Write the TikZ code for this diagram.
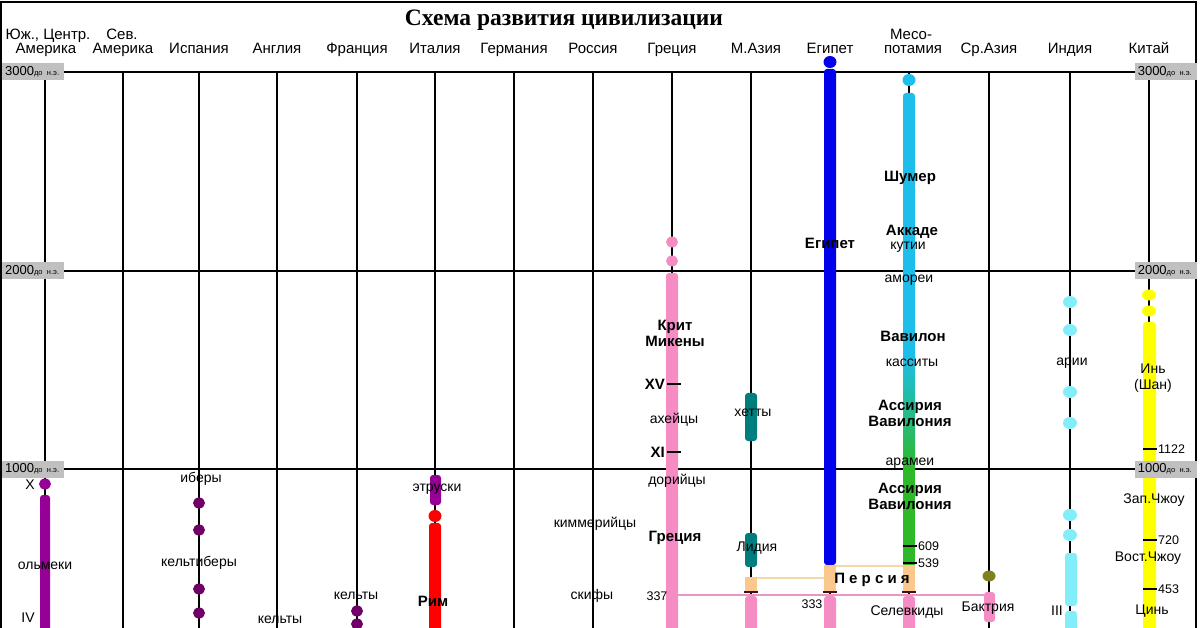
\documentclass[tikz,border=0pt]{standalone}
\usepackage{fontspec}
\setmainfont{Liberation Sans}
\newfontfamily\titlefont{Liberation Serif}
\usetikzlibrary{positioning}

\definecolor{purpc}{RGB}{150,0,150}
\definecolor{dpurpc}{RGB}{112,0,104}
\definecolor{redc}{RGB}{255,0,0}
\definecolor{pinkc}{RGB}{245,140,195}
\definecolor{pinkline}{RGB}{232,150,200}
\definecolor{tealc}{RGB}{0,125,125}
\definecolor{bluec}{RGB}{0,0,235}
\definecolor{skyc}{RGB}{30,190,235}
\definecolor{greenc}{RGB}{45,185,40}
\definecolor{peachc}{RGB}{250,200,140}
\definecolor{peachline}{RGB}{245,215,170}
\definecolor{olivec}{RGB}{128,128,32}
\definecolor{lcyanc}{RGB}{130,238,250}
\definecolor{yellowc}{RGB}{255,255,0}
\definecolor{yearc}{RGB}{192,192,192}
\definecolor{tickc}{RGB}{60,20,20}

\begin{document}
\begin{tikzpicture}[
  x=1pt,
  y=-1pt,
  font=\fontsize{14}{16}\selectfont,
  grid line/.style={draw=black,line width=1.6pt},
  col head/.style={font=\fontsize{15}{16}\selectfont,inner sep=0pt,anchor=base},
  label/.style={inner sep=0pt},
  bold label/.style={label,font=\fontsize{15}{16}\selectfont\bfseries},
  num/.style={inner sep=0pt,font=\fontsize{12.5}{14}\selectfont},
  year box/.style={fill=yearc,inner xsep=3pt,inner ysep=0pt,
    minimum height=17pt,text width=56pt,align=left,
    font=\fontsize{13}{14}\selectfont},
  bar/.style={fill=#1,rounded corners=3pt},
  tick/.style={draw=black,line width=1.4pt},
  sep/.style={draw=tickc,line width=1.8pt}
]
  \path[use as bounding box] (0,0) rectangle (1200,628);
  \draw[grid line] (1,628) -- (1,2) -- (1196,2) -- (1196,628);

  % title and column heads
  \node[font=\titlefont\fontsize{23.5}{25}\selectfont\bfseries] (title)
    at (564,20) {Схема развития цивилизации};
  \foreach \cx/\hd in {199/Испания,277/Англия,357/Франция,435/Италия,
      514/Германия,593/Россия,672/Греция,756/М.Азия,830/Египет,
      989/Ср.Азия,1070/Индия,1149/Китай}{
    \node[col head] (h\cx) at (\cx,54) {\hd};
  }
  \node[col head] (hsam1) at (48,40) {Юж., Центр.};
  \node[col head] (hsam2) at (46,54) {Америка};
  \node[col head] (hnam1) at (122,40) {Сев.};
  \node[col head] (hnam2) at (123,54) {Америка};
  \node[col head] (hmes1) at (911,40) {Месо-};
  \node[col head] (hmes2) at (913,54) {потамия};

  % grid
  \foreach \cx in {45,123,199,277,357,435,514,593,672,751,830,909,989,1070,1149}{
    \draw[grid line] (\cx,72) -- (\cx,628);
  }
  \foreach \yy in {72,271,469}{
    \draw[grid line] (1,\yy) -- (1196,\yy);
  }

  % Americas, Spain, France, Italy
  \fill[purpc] (45,484) ellipse[x radius=6,y radius=5.5];
  \fill[bar=purpc] (40,495) rectangle (50,640);
  \foreach \dy in {503,530,589,613}{
    \fill[dpurpc] (199,\dy) ellipse[x radius=6,y radius=5.5];
  }
  \foreach \dy in {611,624}{
    \fill[dpurpc] (357,\dy) ellipse[x radius=6,y radius=5.5];
  }
  \fill[bar=purpc] (430,475) rectangle (441,505);
  \fill[redc] (435,516) ellipse[x radius=6.5,y radius=6];
  \fill[bar=redc] (429,523) rectangle (441,640);

  % Greece, Asia Minor
  \foreach \dy in {242,261}{
    \fill[pinkc] (672,\dy) ellipse[x radius=6,y radius=5.5];
  }
  \fill[bar=pinkc] (666,273) rectangle (678,640);
  \fill[bar=tealc] (745,393) rectangle (757,441);
  \fill[bar=tealc] (745,533) rectangle (757,567);

  % Egypt, Mesopotamia
  \fill[bluec] (830,62) ellipse[x radius=6.5,y radius=6];
  \fill[bar=bluec] (824,69) rectangle (836,565);
  \fill[skyc] (909,80) ellipse[x radius=6.5,y radius=6];
  \fill[bar=skyc] (903,93) rectangle (915,360);
  \shade[top color=skyc,bottom color=greenc] (903,355) rectangle (915,470);
  \fill[greenc] (903,469) rectangle (915,565);

  % Persia and the Hellenistic states
  \draw[peachline,line width=2.5pt] (757,578) -- (824,578);
  \draw[peachline,line width=2.5pt] (836,566) -- (903,566);
  \fill[peachc] (745,577) rectangle (757,592);
  \fill[peachc] (824,565) rectangle (836,592);
  \fill[peachc] (903,565) rectangle (915,592);
  \draw[pinkline,line width=2.5pt] (678,595) -- (984,595);
  \fill[bar=pinkc] (745,596) rectangle (757,640);
  \fill[bar=pinkc] (824,596) rectangle (836,640);
  \fill[bar=pinkc] (903,596) rectangle (915,640);
  \fill[bar=pinkc] (984,592) rectangle (995,622);
  \draw[sep] (744,592) -- (758,592);
  \draw[sep] (823,592) -- (837,592);
  \draw[sep] (902,592) -- (916,592);

  % Central Asia, India, China
  \fill[olivec] (989,576) ellipse[x radius=6.5,y radius=5.5];
  \foreach \dy in {302,330,392,423,515,535}{
    \fill[lcyanc] (1070,\dy) ellipse[x radius=7,y radius=6];
  }
  \fill[bar=lcyanc] (1065,553) rectangle (1077,606);
  \fill[bar=lcyanc] (1065,611) rectangle (1077,640);
  \foreach \dy in {295,311}{
    \fill[yellowc] (1149,\dy) ellipse[x radius=7,y radius=5.5];
  }
  \fill[bar=yellowc] (1143,322) rectangle (1156,640);

  % year marks sit over the bars
  \foreach \yr/\yy in {3000/72,2000/271,1000/469}{
    \node[year box,anchor=west] (yl\yr) at (2,\yy)
      {\yr{\fontsize{7.5}{8}\selectfont до н.э.}};
    \node[year box,anchor=east] (yr\yr) at (1197,\yy)
      {\yr{\fontsize{7.5}{8}\selectfont до н.э.}};
  }

  % dated marks
  \foreach \tn/\tx/\ty in {xv/667/384,xi/667/452,m609/903/546,m539/903/563,
      c1122/1143/449,c720/1143/540,c453/1143/589}{
    \coordinate (\tn a) at (\tx,\ty);
    \coordinate (\tn) at (\tx+14,\ty);
    \draw[tick] (\tn a) -- (\tn);
  }
  \node[num,right=1pt of m609] (l609) {609};
  \node[num,right=1pt of m539] (l539) {539};
  \node[num,right=1pt of c1122] (l1122) {1122};
  \node[num,right=1pt of c720] (l720) {720};
  \node[num,right=1pt of c453] (l453) {453};
  \node[bold label,left=2pt of xva] (lxv) {XV};
  \node[bold label,left=2pt of xia] (lxi) {XI};

  % labels
  \node[label] (lx) at (30,485) {X};
  \node[label] (olmec) at (45,566) {ольмеки};
  \node[label] (liv) at (28,618) {IV};
  \node[label] (iber) at (201,479) {иберы};
  \node[label] (celtib) at (199,563) {кельтиберы};
  \node[label] (celteng) at (280,620) {кельты};
  \node[label] (celtfr) at (356,596) {кельты};
  \node[label] (etrusc) at (437,489) {этруски};
  \node[bold label] (rome) at (433,601) {Рим};
  \node[label] (cimmer) at (595,524) {киммерийцы};
  \node[label] (scyth) at (592,596) {скифы};
  \node[bold label,align=center] (crete) at (675,333) {Крит\\Микены};
  \node[label] (achae) at (674,420) {ахейцы};
  \node[label] (dorian) at (677,481) {дорийцы};
  \node[bold label] (greece) at (675,538) {Греция};
  \node[num] (l337) at (657,596) {337};
  \node[label] (hittite) at (753,413) {хетты};
  \node[label] (lydia) at (757,548) {Лидия};
  \node[bold label] (egypt) at (830,243) {Египет};
  \node[num] (l333) at (812,604) {333};
  \node[bold label] (persia) at (872,580) {П е р с и я};
  \node[label] (seleuc) at (907,612) {Селевкиды};
  \node[label] (bactr) at (988,608) {Бактрия};
  \node[bold label] (sumer) at (910,178) {Шумер};
  \node[bold label] (akkad) at (912,232) {Аккаде};
  \node[label] (guti) at (908,247) {кутии};
  \node[label] (amor) at (909,280) {амореи};
  \node[bold label] (babyl) at (913,336) {Вавилон};
  \node[label] (kassit) at (912,363) {касситы};
  \node[bold label,align=center] (assyr1) at (910,413) {Ассирия\\Вавилония};
  \node[label] (aram) at (910,463) {арамеи};
  \node[bold label,align=center] (assyr2) at (910,496) {Ассирия\\Вавилония};
  \node[label] (arya) at (1072,363) {арии};
  \node[label] (liii) at (1057,611) {III};
  \node[label,align=center] (shang) at (1153,378) {Инь\\(Шан)};
  \node[label] (wzhou) at (1154,500) {Зап.Чжоу};
  \node[label] (ezhou) at (1148,558) {Вост.Чжоу};
  \node[label] (qin) at (1152,611) {Цинь};
\end{tikzpicture}
\end{document}
